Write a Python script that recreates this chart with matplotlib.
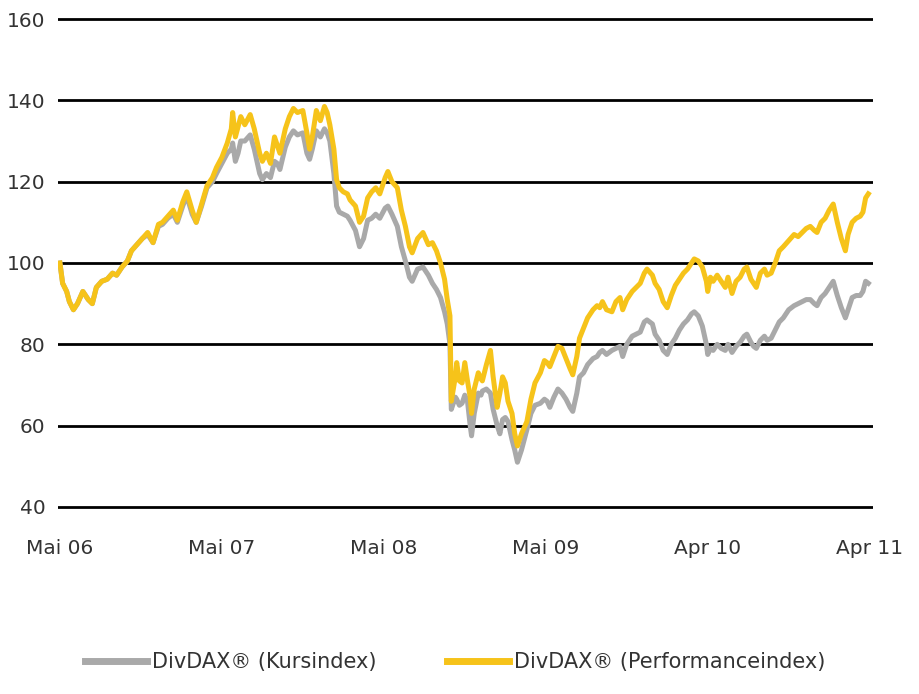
import matplotlib
matplotlib.use("Agg")
import matplotlib.pyplot as plt

# months since Mai 06
months = [0.0, 0.2, 0.5, 0.7, 1.0, 1.3, 1.7, 2.1, 2.4, 2.7, 3.1, 3.5, 3.9, 4.2, 4.6, 5.0,
          5.3, 5.7, 6.1, 6.5, 6.9, 7.3, 7.6, 8.0, 8.4, 8.7, 9.1, 9.4, 9.8, 10.1, 10.5, 10.9,
          11.3, 11.6, 12.0, 12.4, 12.7, 12.8, 13.0, 13.2, 13.4, 13.7, 14.1, 14.4, 14.8, 15.0,
          15.3, 15.6, 15.9, 16.1, 16.3, 16.7, 17.0, 17.3, 17.6, 18.0, 18.3, 18.5, 18.7, 19.0,
          19.3, 19.6, 19.8, 20.0, 20.3, 20.5, 20.7, 21.0, 21.3, 21.5, 21.9, 22.2, 22.5, 22.8,
          23.1, 23.4, 23.7, 24.1, 24.3, 24.6, 25.0, 25.3, 25.6, 25.9, 26.1, 26.5, 26.9, 27.3,
          27.6, 27.9, 28.2, 28.5, 28.7, 28.9, 29.0, 29.3, 29.4, 29.6, 29.8, 30.0, 30.2, 30.4,
          30.5, 30.7, 31.0, 31.2, 31.3, 31.6, 31.9, 32.1, 32.4, 32.6, 32.8, 33.0, 33.2, 33.5,
          33.7, 33.9, 34.2, 34.6, 34.9, 35.2, 35.6, 35.9, 36.1, 36.3, 36.6, 36.9, 37.2, 37.5,
          37.8, 38.0, 38.3, 38.5, 38.8, 39.1, 39.5, 39.8, 40.0, 40.2, 40.5, 40.9, 41.2, 41.5,
          41.7, 42.0, 42.4, 42.7, 43.0, 43.3, 43.5, 43.9, 44.1, 44.4, 44.7, 45.0, 45.3, 45.6,
          45.9, 46.2, 46.5, 46.8, 47.0, 47.3, 47.6, 47.9, 48.0, 48.2, 48.4, 48.7, 49.0, 49.3,
          49.5, 49.8, 50.1, 50.4, 50.7, 50.9, 51.2, 51.4, 51.6, 51.9, 52.2, 52.4, 52.7, 53.0,
          53.3, 53.6, 54.0, 54.4, 54.7, 55.0, 55.3, 55.6, 55.9, 56.1, 56.4, 56.7, 57.0, 57.3,
          57.6, 57.9, 58.2, 58.4, 58.7, 59.0, 59.3, 59.5, 59.7, 59.9]

perf = [100, 95, 93, 90.5, 88.5, 90, 93, 91, 90, 94, 95.5, 96, 97.5, 97, 99, 100.5,
        103, 104.5, 106, 107.5, 105, 109.5, 110, 111.5, 113, 110.5, 115, 117.5, 113, 110, 114.5, 119,
        121, 123.5, 126, 129.5, 133, 137, 131, 133.5, 136, 134, 136.5, 133, 127, 125,
        127, 124.5, 131, 129, 127, 133, 136, 138, 137, 137.5, 132, 128, 131, 137.5,
        135, 138.5, 137, 134, 128, 120.5, 118.5, 117.5, 117, 115.5, 114, 110, 111.5, 116,
        117.5, 118.5, 117, 121, 122.5, 120, 118.5, 113, 109, 104, 102.5, 106, 107.5, 104.5,
        105, 103, 100, 96, 91, 87, 66, 72, 75.5, 71, 70.5, 75.5, 71, 67,
        63, 69, 73, 71.5, 71, 75, 78.5, 72, 64.5, 68, 72, 70.5, 66, 63,
        58, 55, 58, 61, 66.5, 70.5, 73, 76, 75.5, 74.5, 77, 79.5, 79, 76.5,
        74, 72.5, 77, 81.5, 84, 86.5, 88.5, 89.5, 89, 90.5, 88.5, 88, 90.5, 91.5,
        88.5, 91, 93, 94, 95, 97.5, 98.5, 97, 95, 93.5, 90.5, 89, 92, 94.5,
        96, 97.5, 98.5, 100, 101, 100.5, 99, 95.5, 93, 96.5, 95.5, 97, 95.5, 94,
        96.5, 92.5, 95.5, 96.5, 98.5, 99, 96, 95, 94, 97.5, 98.5, 97, 97.5, 100,
        103, 104, 105.5, 107, 106.5, 107.5, 108.5, 109, 108, 107.5, 110, 111, 113, 114.5,
        110, 106, 103, 107, 110, 111, 111.5, 112.5, 116, 117]

kurs = [100, 95, 93, 90.5, 88.5, 90, 93, 91, 90, 94, 95.5, 96, 97.5, 97, 99, 100.5,
        103, 104.5, 106, 107, 105, 109, 109.5, 111, 112, 110, 114, 116.5, 112, 110, 114, 118.5,
        120, 122, 124.5, 127, 128, 129.5, 125, 127, 130, 130, 131.5, 128, 122, 120.5,
        122, 121, 125, 124.5, 123, 128.5, 131, 132.5, 131.5, 132, 127, 125.5, 128, 132.5,
        131, 133, 132, 130, 122, 114, 112.5, 112, 111.5, 110.5, 108, 104, 106, 110.5,
        111, 112, 111, 113.5, 114, 112, 109, 104, 100.5, 96.5, 95.5, 98.5, 99, 97,
        95, 93.5, 91.5, 88, 85, 80, 64, 67, 66.5, 65, 65.5, 67.5, 66, 60,
        57.5, 63, 68, 67.5, 68.5, 69, 68, 64, 60, 58, 61.5, 62, 61, 56.5,
        54, 51, 54, 59, 63, 65, 65.5, 66.5, 66, 64.5, 67, 69, 68, 66.5,
        64.5, 63.5, 68, 72, 73, 75, 76.5, 77, 78, 78.5, 77.5, 78.5, 79, 79.5,
        77, 80, 82, 82.5, 83, 85.5, 86, 85, 82.5, 81, 78.5, 77.5, 80, 81.5,
        83.5, 85, 86, 87.5, 88, 87, 84.5, 80, 77.5, 79, 78.5, 80, 79, 78.5,
        80, 78, 79.5, 80.5, 82, 82.5, 80.5, 79.5, 79, 81, 82, 81, 81.5, 83.5,
        85.5, 86.5, 88.5, 89.5, 90, 90.5, 91, 91, 90, 89.5, 91.5, 92.5, 94, 95.5,
        92, 89, 86.5, 88.5, 91.5, 92, 92, 93, 95.5, 95]

tick_pos = [0, 12, 24, 36, 48, 60]
tick_labels = ["Mai 06", "Mai 07", "Mai 08", "Mai 09", "Apr 10", "Apr 11"]
y_ticks = [40, 60, 80, 100, 120, 140, 160]

plt.rcParams['font.family'] = ['DejaVu Sans']

fig = plt.figure(figsize=(9.19, 6.94), dpi=100)
ax = fig.add_axes([0.063, 0.2578, 0.887, 0.7265])

for yv in y_ticks:
    ax.axhline(yv, color='black', lw=2.0, zorder=1)

ax.plot(months, kurs, color='#a9a9a9', lw=3.6, zorder=3, solid_joinstyle='round',
        label='DivDAX® (Kursindex)')
ax.plot(months, perf, color='#f6c31a', lw=3.6, zorder=4, solid_joinstyle='round',
        label='DivDAX® (Performanceindex)')

ax.set_xlim(-0.15, 60.25)
ax.set_ylim(38, 162)
ax.set_yticks(y_ticks)
ax.set_xticks(tick_pos)
ax.set_xticklabels(tick_labels)
ax.tick_params(length=0, labelsize=14.5, colors='#333333')
ax.tick_params(axis='y', pad=9)
ax.tick_params(axis='x', pad=17)
for s in ax.spines.values():
    s.set_visible(False)

handles, labels = ax.get_legend_handles_labels()
leg = fig.legend(handles, labels, loc='center', bbox_to_anchor=(0.495, 0.046), ncol=2,
                 frameon=False, fontsize=15, handlelength=3.0, handletextpad=0.2,
                 columnspacing=3.4)
for t in leg.get_texts():
    t.set_color('#333333')
for h in leg.get_lines():
    h.set_linewidth(5)

fig.savefig('out.png', dpi=100)
